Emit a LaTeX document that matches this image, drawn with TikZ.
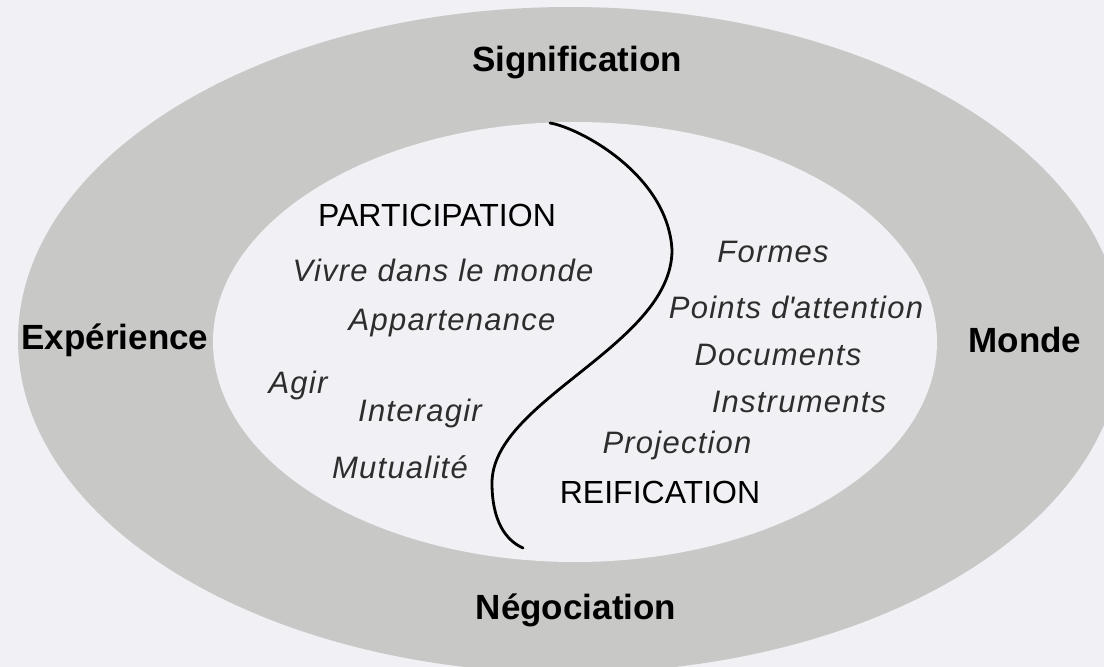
\documentclass[tikz,border=0pt]{standalone}
\usepackage{fontspec}
\setmainfont{Liberation Sans}
\definecolor{bgc}{RGB}{241,240,244}
\definecolor{ring}{RGB}{200,201,199}
\definecolor{itc}{RGB}{45,45,45}
\begin{document}
\begin{tikzpicture}[x=1pt,y=-1pt,
  outerlbl/.style={font=\fontsize{35}{40}\selectfont\bfseries, text=black, inner sep=0pt},
  biglbl/.style={font=\fontsize{32}{38}\selectfont, text=black, inner sep=0pt},
  itlbl/.style={font=\fontsize{31}{36}\selectfont\itshape\addfontfeatures{LetterSpace=4}, text=itc, inner sep=0pt},
  curveline/.style={line width=2.8pt, black, line cap=round}]
\useasboundingbox (0,0) rectangle (1104,667);
\clip (0,0) rectangle (1104,667);
\fill[bgc] (0,0) rectangle (1104,667);
\fill[ring] (570,340) ellipse [x radius=552pt, y radius=333pt];
\fill[bgc] (575,342) ellipse [x radius=362pt, y radius=220pt];
% outer labels
\node[outerlbl] (sig) at (577,63) {Signification};
\node[outerlbl] (exp) at (115,340) {Expérience};
\node[outerlbl] (mon) at (1025,340) {Monde};
\node[outerlbl] (neg) at (576,610) {Négociation};
% inner titles
\node[biglbl] (part) at (437,215) {PARTICIPATION};
\node[biglbl] (reif) at (660,492) {REIFICATION};
% participation side
\node[itlbl] (vivre) at (443,270) {Vivre dans le monde};
\node[itlbl] (appart) at (452,323) {Appartenance};
\node[itlbl] (agir) at (298,385) {Agir};
\node[itlbl] (inter) at (420,413) {Interagir};
\node[itlbl] (mutu) at (400,467) {Mutualité};
% reification side
\node[itlbl] (formes) at (773,252) {Formes};
\node[itlbl] (points) at (796,307) {Points d\textquotesingle attention};
\node[itlbl] (docs) at (778,355) {Documents};
\node[itlbl] (instr) at (799,402) {Instruments};
\node[itlbl] (proj) at (677,445) {Projection};
% S-curve
\coordinate (c0) at (550,123);
\coordinate (c1) at (672,250);
\coordinate (c2) at (492,483);
\coordinate (c3) at (523,548);
\draw[curveline] (c0) .. controls (580,128) and (668,175) .. (c1)
  .. controls (672,345) and (492,400) .. (c2)
  .. controls (492,520) and (505,540) .. (c3);
\end{tikzpicture}
\end{document}
